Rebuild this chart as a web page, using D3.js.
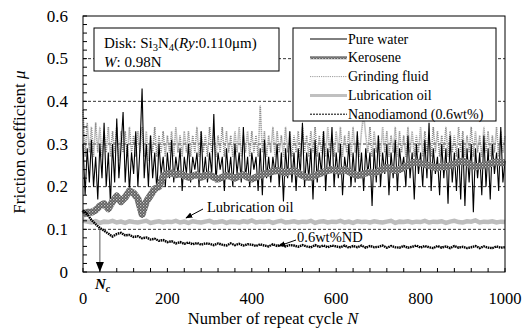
<!DOCTYPE html>
<html>
<head>
<meta charset="utf-8">
<script src="https://cdn.jsdelivr.net/npm/d3@7"></script>
<style>
  body { margin: 0; background: #fff; }
  svg, svg text { font-family: "Liberation Serif", "Times New Roman", serif; }
</style>
</head>
<body>
<div id="chart"></div>
<script>
// friction coefficient vs repeat cycle
var xTicks = [0, 200, 400, 600, 800, 1000];
var yTicks = [0, 0.1, 0.2, 0.3, 0.4, 0.5, 0.6];
var gridLines = [0.1, 0.2, 0.3, 0.4, 0.5];
var seriesNames = ["Pure water", "Kerosene", "Grinding fluid", "Lubrication oil", "Nanodiamond (0.6wt%)"];
var ncCycle = 40;

// sampled every 5 cycles
var pureWater = [
  0.30, 0.18, 0.29, 0.21, 0.31, 0.20, 0.27, 0.17, 0.30, 0.22,
  0.35, 0.20, 0.28, 0.16, 0.30, 0.21, 0.36, 0.22, 0.29, 0.375,
  0.21, 0.30, 0.19, 0.28, 0.23, 0.33, 0.20, 0.29, 0.43, 0.22,
  0.30, 0.20, 0.32, 0.22, 0.28, 0.19, 0.30, 0.23, 0.27, 0.20,
  0.28, 0.22, 0.31, 0.21, 0.27, 0.23, 0.29, 0.19, 0.27, 0.23,
  0.30, 0.21, 0.27, 0.24, 0.28, 0.20, 0.33, 0.22, 0.27, 0.21,
  0.28, 0.23, 0.37, 0.21, 0.28, 0.24, 0.27, 0.19, 0.29, 0.22,
  0.27, 0.20, 0.30, 0.23, 0.28, 0.21, 0.34, 0.22, 0.27, 0.20,
  0.28, 0.24, 0.27, 0.19, 0.29, 0.18, 0.31, 0.22, 0.27, 0.21,
  0.27, 0.23, 0.30, 0.20, 0.28, 0.165, 0.29, 0.22, 0.33, 0.21,
  0.28, 0.19, 0.29, 0.23, 0.35, 0.20, 0.28, 0.22, 0.29, 0.17,
  0.31, 0.21, 0.28, 0.23, 0.33, 0.19, 0.29, 0.24, 0.34, 0.20,
  0.28, 0.22, 0.30, 0.18, 0.27, 0.23, 0.30, 0.20, 0.28, 0.21,
  0.33, 0.22, 0.28, 0.19, 0.29, 0.23, 0.28, 0.155, 0.29, 0.21,
  0.32, 0.20, 0.28, 0.23, 0.30, 0.18, 0.28, 0.22, 0.31, 0.19,
  0.29, 0.24, 0.27, 0.20, 0.32, 0.22, 0.28, 0.17, 0.30, 0.23,
  0.28, 0.20, 0.31, 0.22, 0.35, 0.19, 0.29, 0.23, 0.27, 0.18,
  0.30, 0.22, 0.29, 0.16, 0.32, 0.21, 0.28, 0.19, 0.29, 0.17,
  0.31, 0.155, 0.29, 0.21, 0.30, 0.14, 0.29, 0.22, 0.28, 0.18,
  0.32, 0.20, 0.29, 0.17, 0.30, 0.23, 0.28, 0.19, 0.34, 0.21,
  0.26
];

// sampled every 5 cycles
var grindingFluid = [
  0.38, 0.27, 0.35, 0.28, 0.34, 0.27, 0.35, 0.28, 0.34, 0.27,
  0.33, 0.28, 0.34, 0.27, 0.33, 0.28, 0.34, 0.26, 0.33, 0.28,
  0.33, 0.27, 0.34, 0.28, 0.32, 0.27, 0.33, 0.28, 0.34, 0.27,
  0.33, 0.26, 0.32, 0.28, 0.34, 0.27, 0.32, 0.28, 0.33, 0.27,
  0.32, 0.28, 0.33, 0.27, 0.34, 0.28, 0.32, 0.27, 0.33, 0.28,
  0.33, 0.27, 0.32, 0.28, 0.34, 0.27, 0.33, 0.28, 0.32, 0.27,
  0.34, 0.28, 0.33, 0.27, 0.32, 0.28, 0.34, 0.27, 0.33, 0.28,
  0.32, 0.27, 0.33, 0.28, 0.34, 0.27, 0.32, 0.28, 0.33, 0.27,
  0.33, 0.28, 0.32, 0.27, 0.39, 0.28, 0.33, 0.27, 0.32, 0.28,
  0.34, 0.27, 0.33, 0.28, 0.32, 0.27, 0.34, 0.28, 0.33, 0.27,
  0.32, 0.28, 0.33, 0.27, 0.34, 0.28, 0.32, 0.27, 0.33, 0.28,
  0.34, 0.27, 0.32, 0.28, 0.33, 0.27, 0.34, 0.28, 0.32, 0.27,
  0.33, 0.28, 0.34, 0.27, 0.32, 0.28, 0.33, 0.27, 0.34, 0.28,
  0.32, 0.27, 0.33, 0.37, 0.32, 0.28, 0.34, 0.27, 0.33, 0.28,
  0.32, 0.27, 0.34, 0.28, 0.33, 0.27, 0.32, 0.28, 0.34, 0.27,
  0.33, 0.28, 0.32, 0.27, 0.34, 0.28, 0.33, 0.27, 0.32, 0.28,
  0.34, 0.27, 0.33, 0.28, 0.32, 0.27, 0.34, 0.28, 0.33, 0.27,
  0.32, 0.28, 0.34, 0.27, 0.33, 0.28, 0.32, 0.27, 0.34, 0.28,
  0.33, 0.27, 0.32, 0.28, 0.34, 0.27, 0.33, 0.28, 0.32, 0.27,
  0.34, 0.28, 0.33, 0.27, 0.32, 0.28, 0.34, 0.27, 0.33, 0.28,
  0.32
];

// sampled every 10 cycles
var kerosene = [
  0.135, 0.140, 0.140, 0.145, 0.155, 0.160, 0.148, 0.165, 0.178, 0.165,
  0.175, 0.190, 0.185, 0.172, 0.135, 0.165, 0.180, 0.195, 0.200, 0.225,
  0.230, 0.232, 0.228, 0.230, 0.226, 0.222, 0.225, 0.228, 0.222, 0.226,
  0.228, 0.222, 0.218, 0.222, 0.226, 0.224, 0.220, 0.225, 0.228, 0.222,
  0.218, 0.222, 0.226, 0.230, 0.232, 0.236, 0.238, 0.236, 0.232, 0.236,
  0.238, 0.232, 0.226, 0.222, 0.222, 0.226, 0.230, 0.234, 0.238, 0.240,
  0.238, 0.236, 0.240, 0.235, 0.230, 0.226, 0.228, 0.232, 0.234, 0.232,
  0.236, 0.240, 0.245, 0.242, 0.238, 0.240, 0.245, 0.250, 0.256, 0.258,
  0.255, 0.252, 0.250, 0.246, 0.244, 0.248, 0.246, 0.250, 0.254, 0.258,
  0.260, 0.256, 0.250, 0.246, 0.248, 0.250, 0.252, 0.256, 0.258, 0.256,
  0.256
];

// sampled every 10 cycles
var lubricationOil = [
  0.120, 0.118, 0.116, 0.119, 0.115, 0.118, 0.117, 0.120, 0.116, 0.118,
  0.115, 0.119, 0.117, 0.116, 0.118, 0.120, 0.115, 0.117, 0.119, 0.116,
  0.118, 0.117, 0.120, 0.116, 0.118, 0.115, 0.119, 0.117, 0.116, 0.118,
  0.120, 0.116, 0.117, 0.119, 0.115, 0.118, 0.117, 0.116, 0.119, 0.117,
  0.121, 0.116, 0.118, 0.117, 0.119, 0.115, 0.118, 0.120, 0.116, 0.117,
  0.119, 0.116, 0.118, 0.117, 0.120, 0.115, 0.118, 0.119, 0.116, 0.118,
  0.117, 0.120, 0.116, 0.118, 0.115, 0.119, 0.117, 0.118, 0.116, 0.119,
  0.117, 0.116, 0.118, 0.120, 0.115, 0.118, 0.117, 0.119, 0.116, 0.118,
  0.117, 0.120, 0.116, 0.118, 0.117, 0.119, 0.115, 0.118, 0.120, 0.117,
  0.116, 0.119, 0.118, 0.121, 0.116, 0.118, 0.117, 0.119, 0.116, 0.118,
  0.117
];

// sampled every 10 cycles
var nanodiamond = [
  0.145, 0.135, 0.122, 0.112, 0.103, 0.097, 0.090, 0.083, 0.089, 0.092,
  0.086, 0.087, 0.082, 0.084, 0.079, 0.081, 0.076, 0.078, 0.073, 0.075,
  0.070, 0.072, 0.067, 0.070, 0.066, 0.069, 0.065, 0.068, 0.064, 0.067,
  0.066, 0.063, 0.067, 0.064, 0.062, 0.067, 0.063, 0.066, 0.062, 0.065,
  0.064, 0.061, 0.065, 0.062, 0.060, 0.065, 0.061, 0.064, 0.060, 0.063,
  0.062, 0.059, 0.063, 0.060, 0.058, 0.063, 0.059, 0.062, 0.058, 0.062,
  0.060, 0.058, 0.062, 0.057, 0.061, 0.058, 0.062, 0.057, 0.061, 0.058,
  0.059, 0.062, 0.057, 0.061, 0.058, 0.057, 0.061, 0.057, 0.059, 0.062,
  0.057, 0.061, 0.058, 0.056, 0.061, 0.057, 0.060, 0.056, 0.061, 0.057,
  0.059, 0.056, 0.058, 0.061, 0.056, 0.060, 0.057, 0.056, 0.060, 0.057,
  0.058
];

var W = 525, H = 330;
var margin = { top: 16, right: 20, bottom: 58, left: 83 };
var pw = W - margin.left - margin.right;
var ph = H - margin.top - margin.bottom;
var serif = "'Liberation Serif', 'Times New Roman', serif";

var svg = d3.select("#chart").append("svg")
  .attr("width", W)
  .attr("height", H)
  .attr("font-family", serif)
  .style("font-family", serif);

// checkered fill for the kerosene stroke
var defs = svg.append("defs");
var pat = defs.append("pattern")
  .attr("id", "kero")
  .attr("patternUnits", "userSpaceOnUse")
  .attr("width", 3).attr("height", 3);
pat.append("rect").attr("width", 3).attr("height", 3).attr("fill", "#5a5a5a");
pat.append("rect").attr("width", 1.3).attr("height", 1.3).attr("fill", "#c8c8c8");
pat.append("rect").attr("x", 1.5).attr("y", 1.5).attr("width", 1.3).attr("height", 1.3).attr("fill", "#a0a0a0");

var g = svg.append("g")
  .attr("transform", "translate(" + margin.left + "," + margin.top + ")");

var x = d3.scaleLinear().domain([0, 1000]).range([0, pw]);
var y = d3.scaleLinear().domain([0, 0.6]).range([ph, 0]);

// dashed grid
g.selectAll(".grid").data(gridLines).enter().append("line")
  .attr("x1", 0).attr("x2", pw)
  .attr("y1", function(d) { return y(d); })
  .attr("y2", function(d) { return y(d); })
  .attr("stroke", "#000")
  .attr("stroke-width", 0.8)
  .attr("stroke-dasharray", "3,2");

function lineFor(step) {
  return d3.line()
    .x(function(d, i) { return x(i * step); })
    .y(function(d) { return y(d); });
}

g.append("path").datum(grindingFluid)
  .attr("d", lineFor(5))
  .attr("fill", "none")
  .attr("stroke", "#8a8a8a")
  .attr("stroke-width", 1.6)
  .attr("stroke-dasharray", "1,1");

g.append("path").datum(pureWater)
  .attr("d", lineFor(5))
  .attr("fill", "none")
  .attr("stroke", "#000")
  .attr("stroke-width", 1.1);

g.append("path").datum(kerosene)
  .attr("d", lineFor(10))
  .attr("fill", "none")
  .attr("stroke", "url(#kero)")
  .attr("stroke-width", 7)
  .attr("stroke-linejoin", "round");

g.append("path").datum(lubricationOil)
  .attr("d", lineFor(10))
  .attr("fill", "none")
  .attr("stroke", "#bdbdbd")
  .attr("stroke-width", 4.5);

g.append("path").datum(nanodiamond)
  .attr("d", lineFor(10))
  .attr("fill", "none")
  .attr("stroke", "#000")
  .attr("stroke-width", 2.4)
  .attr("stroke-dasharray", "1.6,0.7");

// inward ticks
var xMinor = d3.range(0, 1001, 40);
g.selectAll(".xt").data(xMinor).enter().append("line")
  .attr("x1", function(d) { return x(d); })
  .attr("x2", function(d) { return x(d); })
  .attr("y1", ph).attr("y2", ph - 4)
  .attr("stroke", "#000");
var yMinor = d3.range(0, 0.601, 0.02);
g.selectAll(".yt").data(yMinor).enter().append("line")
  .attr("x1", 0).attr("x2", 4)
  .attr("y1", function(d) { return y(d); })
  .attr("y2", function(d) { return y(d); })
  .attr("stroke", "#000");

g.append("rect")
  .attr("width", pw).attr("height", ph)
  .attr("fill", "none")
  .attr("stroke", "#000")
  .attr("stroke-width", 1);

// tick labels
g.selectAll(".xl").data(xTicks).enter().append("text")
  .attr("x", function(d) { return x(d); })
  .attr("y", ph + 32)
  .attr("text-anchor", "middle")
  .attr("font-size", 16.5)
  .text(function(d) { return d; });
g.selectAll(".yl").data(yTicks).enter().append("text")
  .attr("x", -15)
  .attr("y", function(d) { return y(d) + 5.5; })
  .attr("text-anchor", "end")
  .attr("font-size", 17)
  .text(function(d) { return d === 0 ? "0" : d.toFixed(1); });

// axis titles
var xt = svg.append("text")
  .attr("x", 273)
  .attr("y", 324)
  .attr("text-anchor", "middle")
  .attr("font-size", 16.5);
xt.append("tspan").text("Number of repeat cycle ");
xt.append("tspan").attr("font-style", "italic").text("N");

var yt = svg.append("text")
  .attr("transform", "translate(25,142) rotate(-90)")
  .attr("text-anchor", "middle")
  .attr("font-size", 17);
yt.append("tspan").text("Friction coefficient  ");
yt.append("tspan").attr("font-style", "italic").text("\u03bc");

// info box
svg.append("rect")
  .attr("x", 94).attr("y", 28).attr("width", 185).attr("height", 43)
  .attr("fill", "#fff").attr("stroke", "#000");
var t1 = svg.append("text").attr("x", 104).attr("y", 48).attr("font-size", 15);
t1.append("tspan").text("Disk: Si");
t1.append("tspan").attr("font-size", 10.5).attr("dy", 3).text("3");
t1.append("tspan").attr("dy", -3).text("N");
t1.append("tspan").attr("font-size", 10.5).attr("dy", 3).text("4");
t1.append("tspan").attr("dy", -3).text("(");
t1.append("tspan").attr("font-style", "italic").text("Ry");
t1.append("tspan").text(":0.110\u03bcm)");
var t2 = svg.append("text").attr("x", 104).attr("y", 67).attr("font-size", 15);
t2.append("tspan").attr("font-style", "italic").text("W");
t2.append("tspan").text(": 0.98N");

// legend
svg.append("rect")
  .attr("x", 293).attr("y", 28).attr("width", 203).attr("height", 93)
  .attr("fill", "#fff").attr("stroke", "#000");
var legendStyles = [
  { stroke: "#000", width: 1, dash: null },
  { stroke: "url(#kero)", width: 3, dash: null },
  { stroke: "#9a9a9a", width: 1, dash: "1.2,1" },
  { stroke: "#c0c0c0", width: 3, dash: null },
  { stroke: "#000", width: 1, dash: "2,1" }
];
var leg = svg.selectAll(".leg").data(seriesNames).enter().append("g")
  .attr("transform", function(d, i) { return "translate(310," + (39 + i * 18.8) + ")"; });
leg.append("line")
  .attr("x1", 0).attr("x2", 37)
  .attr("stroke", function(d, i) { return legendStyles[i].stroke; })
  .attr("stroke-width", function(d, i) { return legendStyles[i].width; })
  .attr("stroke-dasharray", function(d, i) { return legendStyles[i].dash; });
leg.append("text")
  .attr("x", 38).attr("y", 4.5)
  .attr("font-size", 14)
  .text(function(d) { return d; });

// annotations
defs.append("marker")
  .attr("id", "ah")
  .attr("viewBox", "0 0 10 10")
  .attr("refX", 9).attr("refY", 5)
  .attr("markerWidth", 7).attr("markerHeight", 7)
  .attr("orient", "auto")
  .append("path").attr("d", "M0,1L10,5L0,9Z").attr("fill", "#000");

svg.append("text").attr("x", 207).attr("y", 212).attr("font-size", 14.5).text("Lubrication oil");
svg.append("line")
  .attr("x1", 203).attr("y1", 209).attr("x2", 186).attr("y2", 218)
  .attr("stroke", "#000").attr("marker-end", "url(#ah)");

svg.append("text").attr("x", 297).attr("y", 242).attr("font-size", 14.5).text("0.6wt%ND");
svg.append("line")
  .attr("x1", 296).attr("y1", 240).attr("x2", 279).attr("y2", 246)
  .attr("stroke", "#000").attr("marker-end", "url(#ah)");

// N_c arrow
var ncx = margin.left + x(ncCycle);
svg.append("line")
  .attr("x1", ncx).attr("x2", ncx)
  .attr("y1", margin.top + y(0.1)).attr("y2", margin.top + ph - 9)
  .attr("stroke", "#555").attr("stroke-width", 1);
svg.append("path")
  .attr("d", "M" + (ncx - 4) + "," + (margin.top + ph - 10) + "L" + (ncx + 4) + "," + (margin.top + ph - 10) + "L" + ncx + "," + (margin.top + ph) + "Z")
  .attr("fill", "#000");
var nc = svg.append("text")
  .attr("x", ncx - 5).attr("y", 289)
  .attr("font-size", 15)
  .attr("font-weight", "bold")
  .attr("font-style", "italic");
nc.append("tspan").text("N");
nc.append("tspan").attr("font-size", 10).attr("dy", 3).text("c");
</script>
</body>
</html>
